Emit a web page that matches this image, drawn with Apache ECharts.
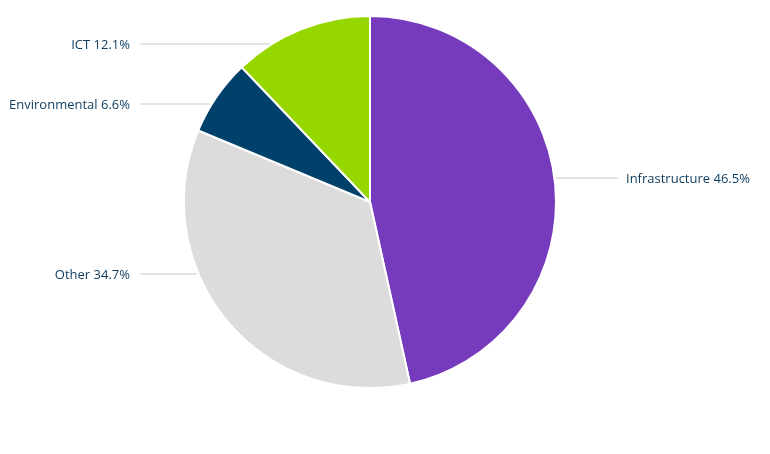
<!DOCTYPE html>
<html>
<head>
<meta charset="utf-8">
<script src="https://cdn.jsdelivr.net/npm/echarts@6/dist/echarts.min.js"></script>
<style>
  html, body { margin: 0; padding: 0; background: #fff; }
  #chart { width: 770px; height: 454px; }
</style>
</head>
<body>
<div id="chart"></div>
<script>
// 数据
var sectors = ['Infrastructure', 'Other', 'Environmental', 'ICT'];
var shares = [46.5, 34.7, 6.6, 12.1];
var colors = ['#763bbd', '#dcdcdc', '#00416b', '#97d700'];

var cx = 370, cy = 202, r = 186;

var chart = echarts.init(document.getElementById('chart'));
chart.setOption({
  animation: false,
  series: [
    {
      type: 'pie',
      center: [cx, cy],
      radius: r,
      startAngle: 90,
      clockwise: true,
      itemStyle: {
        borderColor: '#fff',
        borderWidth: 2
      },
      label: {
        show: true,
        position: 'outside',
        color: '#0d3b5e',
        fontFamily: 'Open Sans',
        fontSize: 13,
        formatter: function (p) {
          return p.name + ' ' + p.value.toFixed(1) + '%';
        }
      },
      labelLine: {
        show: true,
        lineStyle: { color: '#c8c8c8', width: 1 }
      },
      // 标签位置: 水平引线从饼图边缘出发
      labelLayout: function (p) {
        var ys = [178, 274, 104, 44];
        var y = ys[p.dataIndex];
        var left = p.dataIndex !== 0;
        var dx = Math.sqrt(r * r - (y - cy) * (y - cy));
        var xe = left ? cx - dx - 2 : cx + dx + 2;
        var xt = left ? 140 : 618;
        return {
          x: left ? 130 : 626,
          y: y + 1,
          align: left ? 'right' : 'left',
          verticalAlign: 'middle',
          labelLinePoints: [[xe, y], [xe, y], [xt, y]]
        };
      },
      data: sectors.map(function (name, i) {
        return { name: name, value: shares[i], itemStyle: { color: colors[i] } };
      })
    }
  ]
});
</script>
</body>
</html>
